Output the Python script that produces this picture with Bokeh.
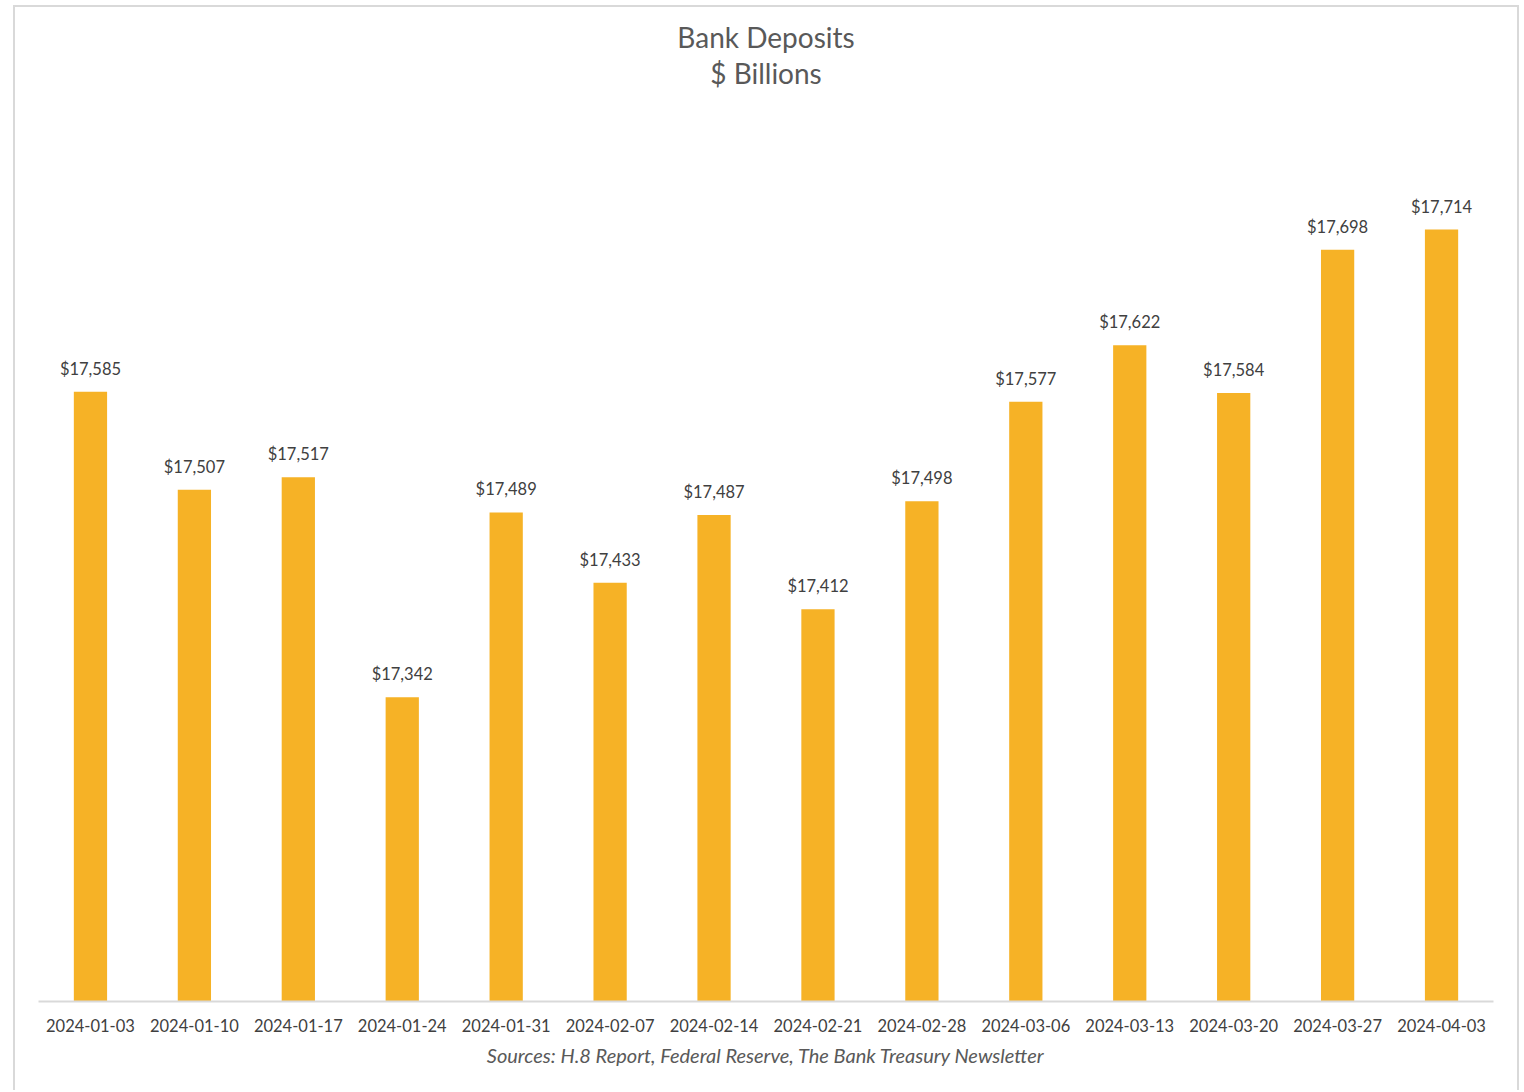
from bokeh.plotting import figure
from bokeh.models import ColumnDataSource, LabelSet, Title
from bokeh.core.properties import value
from bokeh.embed import file_html
from bokeh.resources import INLINE

dates = ["2024-01-03", "2024-01-10", "2024-01-17", "2024-01-24", "2024-01-31",
         "2024-02-07", "2024-02-14", "2024-02-21", "2024-02-28", "2024-03-06",
         "2024-03-13", "2024-03-20", "2024-03-27", "2024-04-03"]
deposits = [17585, 17507, 17517, 17342, 17489, 17433, 17487, 17412, 17498,
            17577, 17622, 17584, 17698, 17714]
labels = ["${:,}".format(v) for v in deposits]

FONT = "Lato"
BORDER = "2px solid #d9d9d9"
src = ColumnDataSource(dict(x=dates, top=deposits, lab=labels))

p = figure(width=1506, height=1085, x_range=dates, y_range=(17100, 17800),
           output_backend="svg", toolbar_location=None,
           min_border_left=23, min_border_right=28, min_border_top=114,
           min_border_bottom=91, outline_line_color=None,
           background_fill_color="white", border_fill_color="white",
           margin=(5, 0, 0, 13),
           styles={"border-top": BORDER, "border-left": BORDER,
                   "border-right": BORDER})

p.vbar(x="x", top="top", bottom=17100, width=0.32, source=src,
       fill_color="#F6B226", line_color=None)

p.add_layout(LabelSet(x="x", y="top", text="lab", source=src, y_offset=13,
                      text_align="center", text_baseline="bottom",
                      text_font=value(FONT), text_font_size="16.5px",
                      text_color="#404040"))

p.yaxis.visible = False
p.xgrid.grid_line_color = None
p.ygrid.grid_line_color = None
ax = p.xaxis[0]
ax.axis_line_color = "#d9d9d9"
ax.axis_line_width = 2
ax.major_tick_line_color = None
ax.minor_tick_line_color = None
ax.major_label_text_font = FONT
ax.major_label_text_font_size = "16.5px"
ax.major_label_text_color = "#404040"
ax.major_label_standoff = 11
ax.axis_label = "Sources: H.8 Report, Federal Reserve, The Bank Treasury Newsletter"
ax.axis_label_text_font = FONT
ax.axis_label_text_font_style = "italic"
ax.axis_label_text_font_size = "20px"
ax.axis_label_text_color = "#595959"
ax.axis_label_standoff = 8

# spacer panel between the frame and the two title lines
p.add_layout(Title(text=" ", align="center", text_font=FONT,
                   text_font_size="25.7px", standoff=0), "above")
p.add_layout(Title(text="$ Billions", align="center", text_font=FONT,
                   text_font_size="28px", text_font_style="normal",
                   text_color="#595959", standoff=0), "above")
p.add_layout(Title(text="Bank Deposits", align="center", text_font=FONT,
                   text_font_size="28px", text_font_style="normal",
                   text_color="#595959", standoff=0), "above")

open("out.html", "w").write(file_html(p, INLINE))
